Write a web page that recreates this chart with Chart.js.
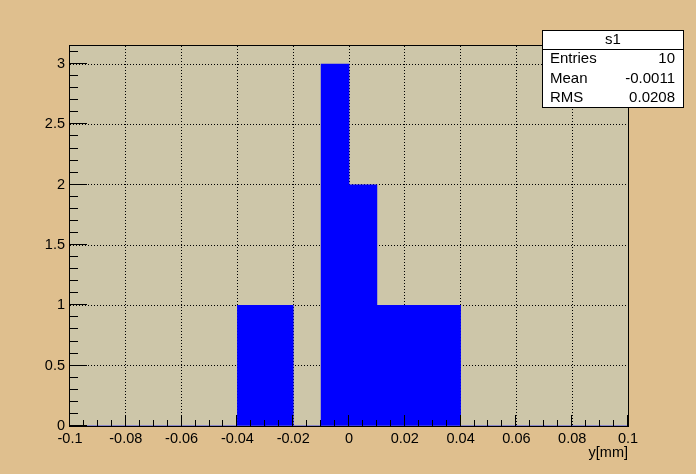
<!DOCTYPE html>
<html>
<head>
<meta charset="utf-8">
<script src="https://cdn.jsdelivr.net/npm/chart.js@4"></script>
<style>
  html, body { margin: 0; padding: 0; background: #dfbf8e; }
  #wrap { width: 696px; height: 474px; }
</style>
</head>
<body>
<div id="wrap"><canvas id="myChart" width="696" height="474"></canvas></div>
<script>
// histogram s1, 20 bins of 0.01 from -0.1 to 0.1
var binCenters = [-0.095, -0.085, -0.075, -0.065, -0.055, -0.045, -0.035, -0.025, -0.015, -0.005,
                  0.005, 0.015, 0.025, 0.035, 0.045, 0.055, 0.065, 0.075, 0.085, 0.095];
var counts = [0, 0, 0, 0, 0, 0, 1, 1, 0, 3, 2, 1, 1, 1, 0, 0, 0, 0, 0, 0];
var yTickValues = [0, 0.5, 1, 1.5, 2, 2.5, 3];
var statLabels = ['Entries', 'Mean', 'RMS'];
var statValues = ['10', '-0.0011', '0.0208'];
var histName = 's1';
var xTitle = 'y[mm]';

var FONT = 'Liberation Sans, Arial, Helvetica, sans-serif';

function fmt(v) {
    var r = Math.round(v * 1000) / 1000;
    if (Math.abs(r) < 1e-9) r = 0;
    return String(r);
}

// frame, inward ticks, axis title and stats box (ROOT style)
var rootFrame = {
    id: 'rootFrame',
    beforeDraw: function (chart) {
        var a = chart.chartArea, c = chart.ctx;
        c.save();
        c.fillStyle = '#dfbf8e';
        c.fillRect(0, 0, chart.width, chart.height);
        c.fillStyle = '#cdc6a9';
        c.fillRect(a.left, a.top, a.right - a.left, a.bottom - a.top);
        c.restore();
    },
    afterDraw: function (chart) {
        var a = chart.chartArea, c = chart.ctx;
        var xs = chart.scales.x, ys = chart.scales.y;
        c.save();
        c.strokeStyle = '#000';
        c.lineWidth = 1;
        c.strokeRect(a.left - 0.5, a.top - 0.5, a.right - a.left + 1, a.bottom - a.top + 1);

        c.beginPath();
        // x ticks: major 0.02, minor 0.005
        for (var i = 0; i <= 40; i++) {
            var v = -0.1 + i * 0.005;
            var px = Math.round(xs.getPixelForValue(v)) - 0.5;
            var len = (i % 4 === 0) ? 11 : 6;
            c.moveTo(px, a.bottom);
            c.lineTo(px, a.bottom - len);
        }
        // y ticks: major 0.5, minor 0.1
        for (var j = 0; j <= 31; j++) {
            var w = j * 0.1;
            var py = Math.round(ys.getPixelForValue(w)) - 0.5;
            var l2 = (j % 5 === 0) ? 17 : 8;
            c.moveTo(a.left, py);
            c.lineTo(a.left + l2, py);
        }
        c.stroke();

        // axis title
        c.fillStyle = '#000';
        c.font = '14.5px ' + FONT;
        c.textAlign = 'right';
        c.textBaseline = 'middle';
        c.fillText(xTitle, a.right, 453);

        // stats box
        var bx = 542.5, by = 30.5, bw = 141, bh = 77;
        c.fillStyle = '#fff';
        c.fillRect(bx, by, bw, bh);
        c.strokeRect(bx, by, bw, bh);
        c.beginPath();
        c.moveTo(bx, 49.5);
        c.lineTo(bx + bw, 49.5);
        c.stroke();
        c.fillStyle = '#000';
        c.font = '15px ' + FONT;
        c.textAlign = 'center';
        c.fillText(histName, bx + bw / 2, 40);
        for (var k = 0; k < statLabels.length; k++) {
            var ty = 59 + k * 19.5;
            c.textAlign = 'left';
            c.fillText(statLabels[k], 550, ty);
            c.textAlign = 'right';
            c.fillText(statValues[k], 675, ty);
        }
        c.restore();
    }
};

var ctx = document.getElementById('myChart').getContext('2d');
var chart = new Chart(ctx, {
    type: 'bar',
    data: {
        datasets: [{
            data: binCenters.map(function (x, i) { return { x: x, y: counts[i] }; }),
            backgroundColor: '#0000ff',
            borderWidth: 0,
            barPercentage: 1,
            categoryPercentage: 1
        }]
    },
    options: {
        responsive: false,
        animation: false,
        layout: { padding: { left: 0, top: 46, right: 68, bottom: 0 } },
        plugins: { legend: { display: false }, tooltip: { enabled: false } },
        scales: {
            x: {
                type: 'linear',
                min: -0.1,
                max: 0.1,
                offset: false,
                grid: {
                    offset: false,
                    drawTicks: false,
                    color: function (c) {
                        var v = c.tick ? c.tick.value : 0;
                        return (Math.abs(v) > 0.099) ? 'rgba(0,0,0,0)' : '#000';
                    },
                    lineWidth: 1
                },
                border: { display: false, dash: [1, 2] },
                ticks: {
                    stepSize: 0.02,
                    padding: 4,
                    maxRotation: 0,
                    autoSkip: false,
                    color: '#000',
                    font: { family: FONT, size: 14.5 },
                    callback: function (v) { return fmt(v); }
                },
                afterFit: function (s) { s.height = 48; }
            },
            y: {
                min: 0,
                max: 3.15,
                grid: {
                    drawTicks: false,
                    color: function (c) {
                        var v = c.tick ? c.tick.value : 0;
                        return (v === 0) ? 'rgba(0,0,0,0)' : '#000';
                    },
                    lineWidth: 1
                },
                border: { display: false, dash: [1, 2] },
                ticks: {
                    padding: 5,
                    color: '#000',
                    font: { family: FONT, size: 14.5 },
                    callback: function (v) { return fmt(v); }
                },
                afterBuildTicks: function (s) {
                    s.ticks = yTickValues.map(function (v) { return { value: v }; });
                },
                afterFit: function (s) { s.width = 70; }
            }
        }
    },
    plugins: [rootFrame]
});
</script>
</body>
</html>
